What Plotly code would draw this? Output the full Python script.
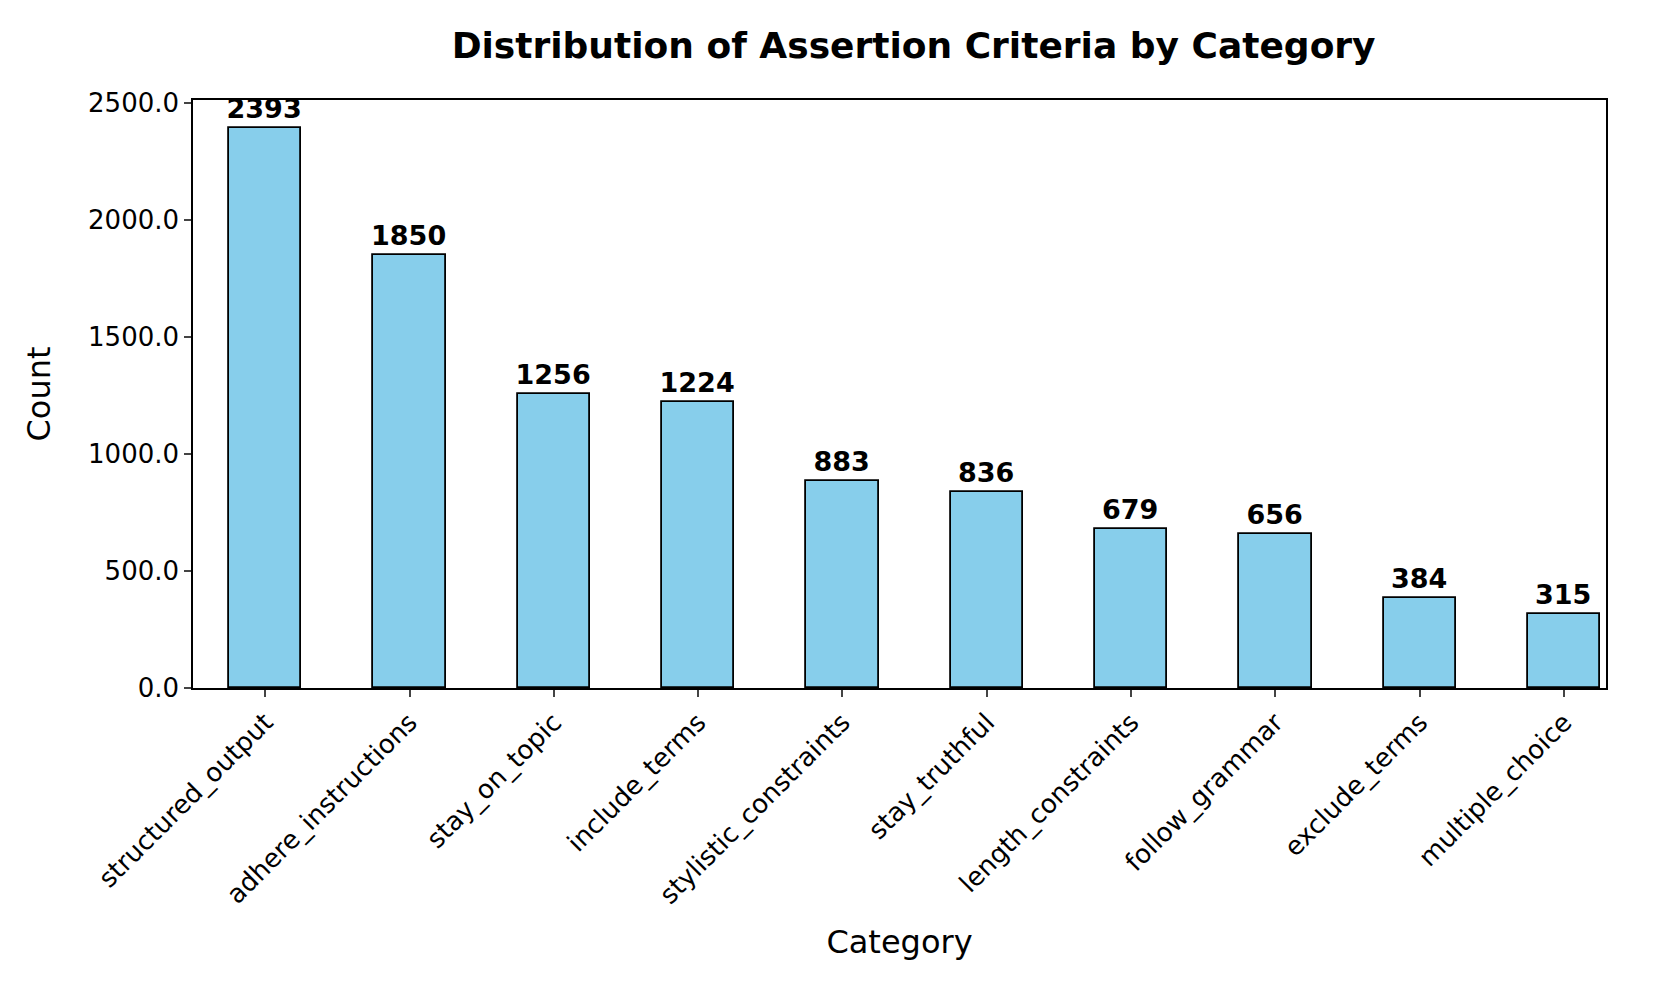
import plotly.graph_objects as go

categories = ["structured_output", "adhere_instructions", "stay_on_topic", "include_terms",
              "stylistic_constraints", "stay_truthful", "length_constraints", "follow_grammar",
              "exclude_terms", "multiple_choice"]
counts = [2393, 1850, 1256, 1224, 883, 836, 679, 656, 384, 315]
y_ticks = [0, 500, 1000, 1500, 2000, 2500]

fig = go.Figure(go.Bar(
    x=list(range(len(categories))), y=counts, width=0.5,
    marker=dict(color="#87CEEB", line=dict(color="black", width=1.8)),
    text=[f"<b>{c}</b>" for c in counts], textposition="outside",
    textfont=dict(size=27, color="black", family="DejaVu Sans"), cliponaxis=False,
))
fig.update_layout(
    width=1661, height=997, plot_bgcolor="white", paper_bgcolor="white",
    font=dict(family="DejaVu Sans", size=26, color="black"),
    margin=dict(l=185, r=63, t=92, b=317),
    title=dict(text="<b>Distribution of Assertion Criteria by Category</b>", x=0.51, xref="paper",
               xanchor="center", y=0.962, yref="container", yanchor="middle", font=dict(size=36)),
    showlegend=False, bargap=0,
    uniformtext=dict(minsize=27, mode="show"),
)
fig.update_xaxes(range=[-0.5, 9.29], tickvals=list(range(len(categories))), ticktext=categories,
                 tickangle=-45, ticks="outside", ticklen=7, tickwidth=1.5, showline=True, linecolor="black",
                 linewidth=1.5, mirror=True, showgrid=False,
                 title=dict(text="Category", font=dict(size=32), standoff=22))
fig.update_yaxes(range=[0, 2512.65], tickvals=y_ticks, tickformat=".1f", ticks="outside", ticklen=7,
                 tickwidth=1.5, showline=True, linecolor="black", linewidth=1.5, mirror=True,
                 showgrid=False, zeroline=False,
                 title=dict(text="Count", font=dict(size=32), standoff=28))
fig.write_html("out.html")
